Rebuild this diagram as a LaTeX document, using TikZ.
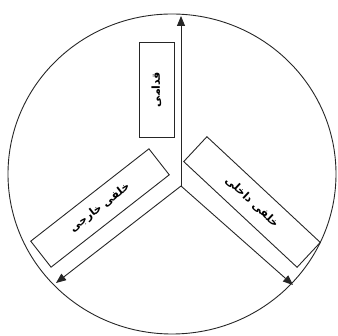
\documentclass[tikz,border=0pt]{standalone}
\usepackage{fontspec}
\usetikzlibrary{arrows.meta}
\TeXXeTstate=1
\newfontfamily\arabicfont[Script=Arabic]{DejaVu Sans}
\tikzset{
  line/.style={draw=black!85, line width=0.9pt},
  arr/.style={line, -{Triangle[length=10pt,width=8pt]}},
  lbox/.style={draw=black!85, line width=0.9pt, rectangle, inner sep=0pt, font=\arabicfont\bfseries\fontsize{11}{13}\selectfont},
}
\begin{document}
\begin{tikzpicture}[x=1pt,y=-1pt]
\useasboundingbox (0,0) rectangle (338,336);
\draw[line] (172,174) ellipse [x radius=164pt, y radius=160pt];
\coordinate (O) at (181,186);
\coordinate (T) at (181,16);
\coordinate (L) at (56,283);
\coordinate (R) at (293,285);
\draw[arr] (O) -- (T);
\draw[arr] (O) -- (L);
\draw[arr] (O) -- (R);
\node[lbox, minimum width=95pt, minimum height=35pt, rotate=90] (ant) at (156.5,89.5) {\beginR قدامی\endR};
\node[lbox, minimum width=150pt, minimum height=33pt, rotate=38] (pl) at (100,208) {\beginR خلفی خارجی\endR};
\node[lbox, minimum width=155pt, minimum height=34pt, rotate=-43] (pm) at (252,202) {\beginR خلفی داخلی\endR};
\end{tikzpicture}
\end{document}
